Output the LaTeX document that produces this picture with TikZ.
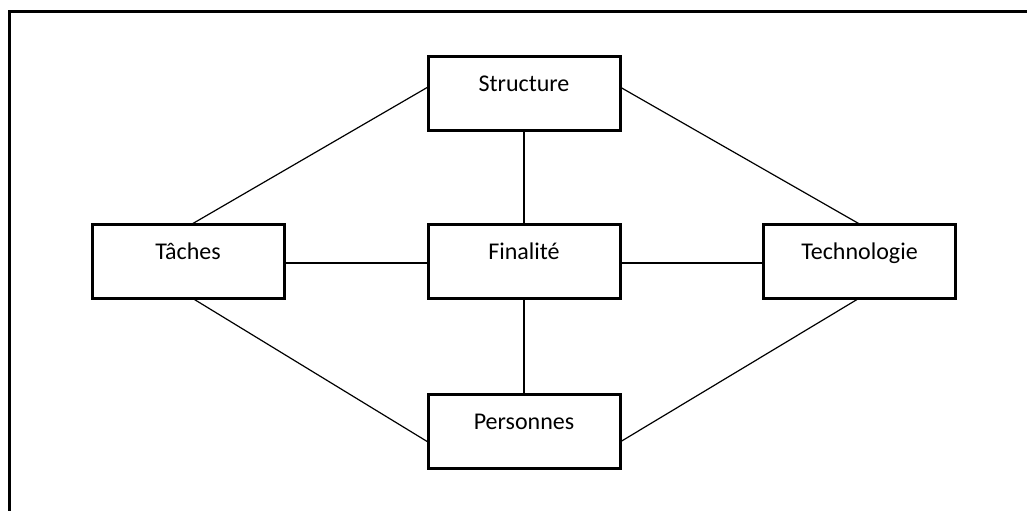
\documentclass[tikz,border=0pt]{standalone}
\usepackage{fontspec}
\setmainfont{Carlito}
\begin{document}
\begin{tikzpicture}[x=0.5pt,y=-0.5pt,
  frameline/.style={line width=1.5pt},
  boxnode/.style={draw,line width=1.5pt,minimum width=96pt,minimum height=37pt,inner sep=0pt,outer sep=0pt},
  boxtext/.style={font=\fontsize{12}{14}\selectfont,anchor=base,inner sep=0pt,yshift=-17.5pt},
  link/.style={line width=0.6pt}]
  \useasboundingbox (0,0) rectangle (1027,511);
  % open frame: top and left edges only
  \coordinate (fa) at (1027,11.5);
  \coordinate (fb) at (9.5,11.5);
  \coordinate (fc) at (9.5,511);
  \draw[frameline] (fa) -- (fb) -- (fc);
  % boxes
  \node[boxnode,label={[boxtext,name=ls]north:Structure}] (S) at (524,93.5) {};
  \node[boxnode,label={[boxtext,name=lt]north:Tâches}] (T) at (188,261) {};
  \node[boxnode,label={[boxtext,name=lf]north:Finalité}] (F) at (524,261) {};
  \node[boxnode,label={[boxtext,name=lg]north:Technologie}] (G) at (859.5,261) {};
  \node[boxnode,label={[boxtext,name=lp]north:Personnes}] (P) at (524,431) {};
  % connectors
  \draw[link] ([yshift=3.25pt]S.west) -- ([xshift=2pt]T.north);
  \draw[link] ([yshift=3.25pt]S.east) -- (G.north);
  \draw[link] (S.south) -- (F.north);
  \draw[link] ([yshift=-1pt]T.east) -- ([yshift=-1pt]F.west);
  \draw[link] ([yshift=-1pt]F.east) -- ([yshift=-1pt]G.west);
  \draw[link] (F.south) -- (P.north);
  \draw[link] ([xshift=2pt]T.south) -- ([yshift=-5.5pt]P.west);
  \draw[link] (G.south) -- ([yshift=-5.5pt]P.east);
\end{tikzpicture}
\end{document}
